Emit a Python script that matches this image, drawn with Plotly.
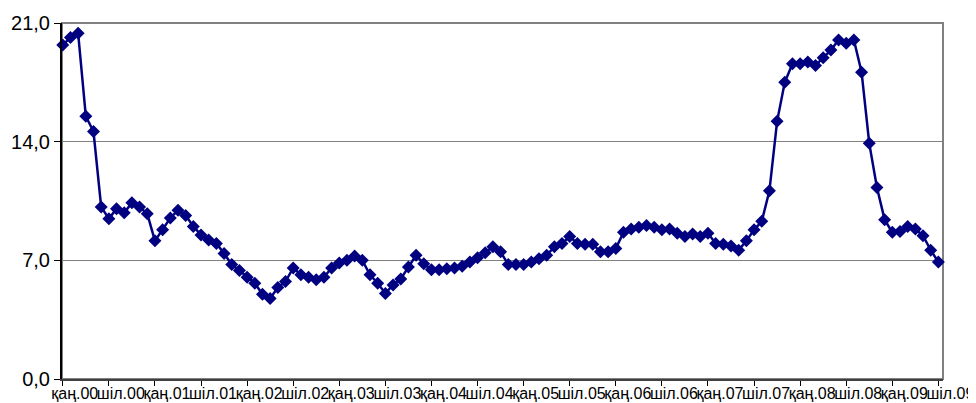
import plotly.graph_objects as go

month_names = ["қаң", "ақп", "нау", "сәу", "мам", "мау",
               "шіл", "там", "қыр", "қаз", "қар", "жел"]
years = ["00", "01", "02", "03", "04", "05", "06", "07", "08", "09"]

values = [
    19.7, 20.15, 20.4, 15.5, 14.6, 10.15, 9.45, 10.05, 9.8, 10.4, 10.15, 9.75,
    8.15, 8.8, 9.5, 9.95, 9.65, 9.0, 8.5, 8.2, 8.0, 7.4, 6.75, 6.4,
    6.0, 5.65, 5.0, 4.75, 5.4, 5.75, 6.55, 6.15, 6.0, 5.85, 6.0, 6.55,
    6.85, 7.0, 7.25, 7.0, 6.15, 5.65, 5.05, 5.55, 5.9, 6.6, 7.3, 6.8,
    6.45, 6.45, 6.5, 6.55, 6.65, 6.9, 7.15, 7.45, 7.8, 7.5, 6.75, 6.75,
    6.75, 6.9, 7.1, 7.3, 7.8, 8.0, 8.4, 8.0, 7.95, 7.95, 7.5, 7.5,
    7.7, 8.65, 8.85, 8.95, 9.05, 8.95, 8.8, 8.85, 8.6, 8.4, 8.55, 8.4,
    8.6, 8.0, 7.95, 7.85, 7.6, 8.15, 8.8, 9.3, 11.1, 15.2, 17.5, 18.6,
    18.6, 18.7, 18.5, 18.95, 19.4, 20.0, 19.8, 20.0, 18.1, 13.9, 11.3, 9.4,
    8.65, 8.7, 9.0, 8.85, 8.45, 7.6, 6.9,
]

categories = [f"{m}.{y}" for y in years for m in month_names][:len(values)]
tick_labels = categories[::6]

y_ticks = [0, 7, 14, 21]

fig = go.Figure()
fig.add_trace(go.Scatter(
    x=categories, y=values, mode="lines+markers",
    line=dict(color="#000080", width=2.5),
    marker=dict(symbol="diamond", size=10, color="#000080"),
    cliponaxis=False, showlegend=False,
))

fig.update_layout(
    width=968, height=395,
    margin=dict(l=54, r=33, t=15, b=24),
    plot_bgcolor="white", paper_bgcolor="white",
    separators=", ",
    font=dict(family="Arial, Liberation Sans, sans-serif", color="black"),
    shapes=[dict(type="rect", xref="paper", yref="paper", x0=0, y0=0, x1=1, y1=1,
                 line=dict(color="#808080", width=2), layer="below")],
)
fig.update_xaxes(
    type="category", range=[-0.1, 114.6],
    tickmode="array", tickvals=tick_labels, ticktext=tick_labels,
    ticks="outside", ticklen=5, tickcolor="black", tickwidth=1,
    tickfont=dict(size=16), tickangle=0, ticklabelshift=12, ticklabelstandoff=-6,
    showline=True, linecolor="#404040", linewidth=2,
    showgrid=False, zeroline=False, automargin=False,
)
fig.update_yaxes(
    range=[0, 21], tickmode="array", tickvals=y_ticks, tickformat=".1f",
    ticks="outside", ticklen=6, tickcolor="black", tickwidth=1,
    tickfont=dict(size=20),
    showline=True, linecolor="black", linewidth=2,
    showgrid=True, gridcolor="#808080", gridwidth=1, zeroline=False,
    automargin=False,
)

fig.write_html("out.html")
